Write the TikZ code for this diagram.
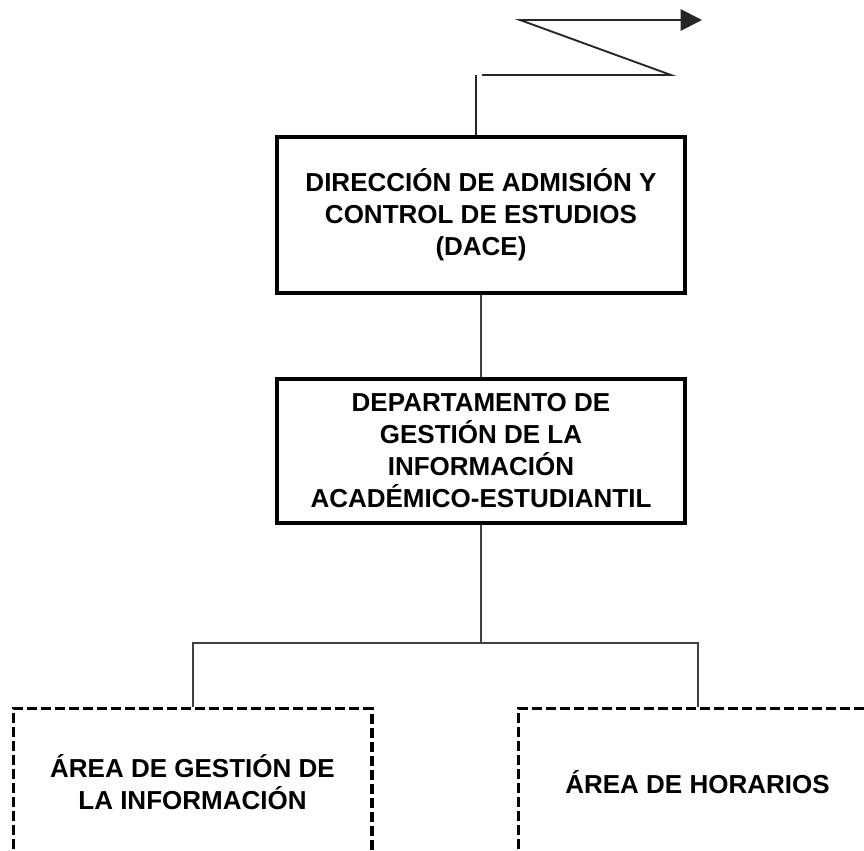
\documentclass[tikz,border=0pt]{standalone}
\usepackage{fontspec}
\setmainfont{Liberation Sans}
\usetikzlibrary{arrows.meta, calc}

\begin{document}
\begin{tikzpicture}[
    x=0.75pt, y=-0.75pt,
    every node/.style={font=\bfseries\fontsize{19.5}{24}\selectfont, align=center},
    caja/.style={rectangle, draw=black, line width=2.5pt, minimum width=306pt,
        inner sep=0pt},
    area/.style={rectangle, draw=black, line width=2.5pt,
        dash pattern=on 7.5pt off 3pt, minimum width=269pt, minimum height=110pt,
        inner sep=0pt},
    conector/.style={draw=black!75, line width=1.5pt},
    quiebre/.style={draw=black!85, line width=1.4pt}
    ]

\useasboundingbox (0,0) rectangle (864,850);
\clip (0,0) rectangle (864,850);

%Upper boxes
\node[caja, minimum height=117pt] (dace) at (481,215) {%
    DIRECCI\'ON DE ADMISI\'ON Y\\
    CONTROL DE ESTUDIOS\\
    (DACE)};
\node[caja, minimum height=108pt] (depto) at (481,451) {%
    DEPARTAMENTO DE\\
    GESTI\'ON DE LA\\
    INFORMACI\'ON\\
    ACAD\'EMICO-ESTUDIANTIL};

%Lower part, dashed areas
\node[area] (gestion) at (192.5,782) {%
    \'AREA DE GESTI\'ON DE\\
    LA INFORMACI\'ON};
\node[area] (horarios) at (697.5,782) {\'AREA DE HORARIOS};

%Zigzag to the upper level
\coordinate (corte) at (476,75);
\coordinate (z1) at (482,75);
\coordinate (z2) at (671,75);
\coordinate (z3) at (520,20);
\coordinate (punta) at (702,20);
\draw[quiebre] (corte |- dace.north) -- (corte);
\draw[quiebre, -{Triangle[length=16pt, width=16pt]}]
    (z1) -- (z2) -- (z3) -- (punta);

%Connectors
\coordinate (rama) at (0,643);
\draw[conector] (dace.south) -- (depto.north);
\draw[conector] (depto.south) -- (depto.south |- rama);
\draw[conector] (gestion.north) -- (gestion.north |- rama)
    -- (horarios.north |- rama) -- (horarios.north);
\end{tikzpicture}
\end{document}
